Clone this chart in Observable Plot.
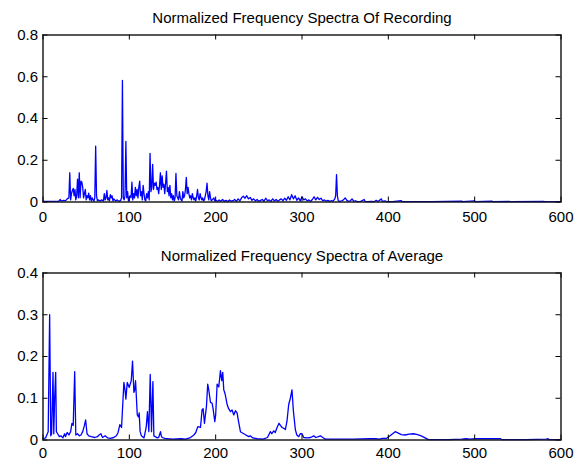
<!DOCTYPE html>
<html><head><meta charset="utf-8">
<script src="https://cdn.jsdelivr.net/npm/d3@7"></script>
<script src="https://cdn.jsdelivr.net/npm/@observablehq/plot@0.6"></script>
<style>
body{margin:0;background:#fff;}
#chart{width:585px;height:461px;background:#fff;}
#chart svg{display:block;}
</style>
</head><body><div id="chart"></div><script>
const titles = ["Normalized Frequency Spectra Of Recording", "Normalized Frequency Spectra of Average"];
const xTicks = [0, 100, 200, 300, 400, 500, 600];
const yTicksTop = [0, 0.2, 0.4, 0.6, 0.8];
const yTicksBottom = [0, 0.1, 0.2, 0.3, 0.4];

// [frequency, normalized amplitude]
const recording = [
[0,0.003],[18,0.003],[20,0.012],[21,0.004],[24,0.008],[26,0.005],[28,0.015],[30,0.02],[31,0.14],[32,0.01],
[33,0.04],[34,0.055],[35,0.065],[36,0.03],[37,0.06],[38,0.01],[39,0.03],[40,0.11],[41,0.02],[42,0.14],
[43,0.02],[44,0.1],[45,0.095],[46,0.07],[47,0.02],[48,0.04],[49,0.06],[50,0.01],[51,0.03],[52,0.02],
[53,0.042],[54,0.01],[55,0.03],[56,0.005],[57,0.02],[58,0.01],[59,0.004],[60,0.02],[61,0.267],[62,0.03],
[63,0.005],[64,0.01],[66,0.005],[68,0.01],[70,0.005],[71,0.04],[72,0.01],[73,0.02],[74,0.055],[75,0.01],
[76,0.02],[77,0.005],[78,0.035],[79,0.02],[80,0.03],[81,0.005],[82,0.015],[84,0.005],[86,0.01],[88,0.003],
[90,0.008],[91,0.02],[92,0.582],[93,0.02],[94,0.01],[95,0.03],[96,0.29],[97,0.02],[98,0.05],[99,0.005],
[100,0.02],[101,0.03],[102,0.02],[103,0.095],[104,0.01],[105,0.04],[106,0.02],[107,0.07],[108,0.03],[109,0.06],
[110,0.02],[111,0.07],[112,0.1],[113,0.03],[114,0.05],[115,0.01],[116,0.08],[117,0.04],[118,0.01],[119,0.005],
[120,0.04],[121,0.02],[122,0.05],[123,0.01],[124,0.233],[125,0.05],[126,0.07],[127,0.18],[128,0.06],[129,0.09],
[130,0.08],[131,0.095],[132,0.06],[133,0.07],[134,0.04],[135,0.08],[136,0.14],[137,0.06],[138,0.125],[139,0.07],
[140,0.085],[141,0.04],[142,0.09],[143,0.148],[144,0.05],[145,0.07],[146,0.03],[147,0.08],[148,0.02],[149,0.04],
[150,0.01],[151,0.03],[152,0.005],[153,0.02],[154,0.137],[155,0.03],[156,0.02],[157,0.01],[158,0.05],[159,0.02],
[160,0.01],[161,0.005],[162,0.05],[163,0.02],[164,0.03],[165,0.06],[166,0.118],[167,0.04],[168,0.07],[169,0.04],
[170,0.02],[171,0.03],[172,0.01],[173,0.04],[174,0.02],[175,0.01],[176,0.02],[177,0.005],[178,0.03],[179,0.06],
[180,0.02],[181,0.01],[182,0.04],[183,0.02],[184,0.01],[185,0.02],[186,0.005],[187,0.01],[188,0.03],[189,0.05],
[190,0.09],[191,0.03],[192,0.01],[193,0.05],[194,0.02],[195,0.005],[196,0.01],[198,0.02],[199,0.005],[200,0.01],
[202,0.003],[204,0.01],[206,0.004],[208,0.012],[210,0.003],[212,0.008],[214,0.002],[216,0.01],[218,0.004],[220,0.006],
[222,0.012],[224,0.003],[226,0.015],[228,0.005],[230,0.02],[232,0.028],[234,0.018],[236,0.03],[238,0.015],[240,0.022],
[242,0.008],[244,0.015],[246,0.005],[248,0.012],[250,0.003],[252,0.008],[254,0.012],[256,0.004],[258,0.018],[260,0.006],
[262,0.01],[264,0.003],[266,0.015],[268,0.005],[270,0.012],[272,0.004],[274,0.01],[276,0.015],[278,0.006],[280,0.018],
[282,0.008],[284,0.025],[286,0.01],[288,0.035],[290,0.015],[292,0.03],[294,0.008],[296,0.02],[298,0.005],[300,0.025],
[302,0.01],[304,0.015],[306,0.005],[308,0.01],[310,0.003],[312,0.012],[314,0.025],[316,0.01],[318,0.022],[320,0.012],
[322,0.018],[324,0.006],[326,0.01],[328,0.004],[330,0.008],[332,0.003],[334,0.006],[336,0.004],[338,0.015],[339,0.03],
[340,0.131],[341,0.03],[342,0.005],[344,0.003],[346,0.006],[348,0.01],[350,0.02],[352,0.008],[354,0.003],[356,0.006],
[358,0.015],[360,0.003],[362,0.006],[364,0.002],[368,0.003],[372,0.012],[373,0.003],[376,0.002],[380,0.003],[384,0.002],
[386,0.008],[388,0.002],[392,0.015],[393,0.003],[396,0.005],[398,0.002],[405,0.002],[415,0.006],[416,0.002],[430,0.002],
[450,0.002],[485,0.004],[486,0.002],[500,0.005],[501,0.002],[520,0.004],[521,0.002],[540,0.003],[541,0.002],[580,0.003],
[581,0.002],[600,0.002]
];

const average = [
[0,0.003],[3,0.005],[5,0.015],[6,0.02],[7.7,0.3],[9,0.01],[10,0.015],[11.6,0.162],[12.5,0.015],[13.5,0.1],
[14.7,0.162],[15.5,0.02],[17,0.015],[19,0.008],[21,0.01],[23,0.005],[25,0.015],[26,0.008],[28,0.018],[30,0.012],
[32,0.02],[33.5,0.04],[35,0.035],[36.7,0.164],[38,0.012],[40,0.015],[42,0.01],[44,0.012],[46,0.02],[48,0.035],
[49.4,0.048],[51,0.015],[53,0.01],[56,0.008],[60,0.006],[63,0.008],[65,0.012],[67,0.015],[69,0.006],[72,0.01],
[75,0.005],[78,0.004],[82,0.006],[85,0.01],[87,0.018],[89,0.037],[91,0.03],[93.7,0.138],[95,0.12],[96,0.098],
[97.6,0.138],[99.9,0.126],[102.2,0.142],[103.7,0.189],[105.3,0.114],[106.3,0.12],[107.2,0.142],[109.2,0.06],[110.5,0.055],[111.4,0.065],
[112.5,0.02],[114,0.01],[117,0.005],[119.5,0.03],[121,0.068],[122.6,0.02],[124.2,0.157],[125.7,0.02],[127.3,0.14],[128.4,0.01],
[130,0.008],[132.3,0.005],[134,0.006],[136.1,0.02],[137,0.01],[138,0.006],[141,0.004],[145,0.003],[150,0.002],[160,0.003],
[165,0.002],[170,0.005],[172,0.008],[174.7,0.012],[177,0.018],[179.3,0.032],[182.4,0.03],[184.3,0.073],[185.5,0.075],[187,0.04],
[189.3,0.08],[190.8,0.134],[192,0.12],[194,0.09],[195.9,0.088],[197,0.075],[199,0.044],[200,0.06],[201.7,0.134],[203.6,0.127],
[205.5,0.166],[207.1,0.142],[208.2,0.162],[209.4,0.12],[211,0.11],[213.3,0.085],[215,0.075],[217.1,0.068],[219,0.072],[221,0.06],
[222.9,0.07],[224.8,0.065],[226,0.05],[228.7,0.02],[230,0.018],[232.6,0.015],[235,0.012],[238.3,0.008],[240,0.01],[243,0.005],
[248,0.003],[255,0.002],[260,0.006],[263.4,0.02],[265,0.015],[267.3,0.022],[269,0.018],[271.1,0.03],[273.4,0.04],[275,0.035],
[276.9,0.03],[279,0.028],[280.7,0.025],[282.6,0.045],[284.6,0.085],[286.5,0.1],[288.4,0.12],[290,0.07],[292.3,0.025],[294,0.012],
[296.2,0.008],[298,0.015],[300,0.015],[302,0.006],[306,0.005],[310,0.006],[313.6,0.01],[316,0.006],[319,0.008],[321.4,0.01],
[324,0.006],[327.2,0.002],[340,0.002],[360,0.002],[378,0.003],[385,0.003],[390,0.002],[393,0.004],[398,0.004],[402,0.01],
[405,0.015],[407.9,0.02],[411,0.017],[415,0.013],[419.4,0.012],[424,0.014],[429,0.015],[434,0.013],[438,0.01],[441,0.007],
[446.5,0.001],[470,0.001],[485,0.002],[490,0.003],[495,0.002],[500,0.003],[520,0.003],[530,0.003],[531,0.001],[560,0.001],
[583,0.002],[585,0.003],[586,0.001],[600,0.001]
];

const W = 585, ML = 42.5, MR = 24.5, TICK = 5;

function panel(data, title, yTicks, yMax, height, marginTop, marginBottom, xPad) {
  const fw = W - ML - MR, fh = height - marginTop - marginBottom;
  const tickStyle = {stroke: "#000", strokeWidth: 1};
  return Plot.plot({
    width: W, height, marginLeft: ML, marginRight: MR, marginTop, marginBottom,
    style: {fontFamily: "'Liberation Sans', Arial, sans-serif", fontSize: "15px", background: "#fff", color: "#000", overflow: "visible"},
    x: {domain: [0, 600]},
    y: {domain: [0, yMax]},
    marks: [
      Plot.line(data, {x: d => d[0], y: d => d[1], stroke: "#0000ff", strokeWidth: 1.3}),
      // inward ticks on all four sides
      Plot.tickX(xTicks, {x: d => d, insetTop: fh - TICK, ...tickStyle}),
      Plot.tickX(xTicks, {x: d => d, insetBottom: fh - TICK, ...tickStyle}),
      Plot.tickY(yTicks, {y: d => d, insetRight: fw - TICK, ...tickStyle}),
      Plot.tickY(yTicks, {y: d => d, insetLeft: fw - TICK, ...tickStyle}),
      Plot.axisX(xTicks, {anchor: "bottom", tickSize: 0, tickPadding: xPad, label: null, tickFormat: d => String(d)}),
      Plot.axisY(yTicks, {anchor: "left", tickSize: 0, tickPadding: 5, label: null, tickFormat: d => String(d)}),
      Plot.frame({stroke: "#111", strokeWidth: 1.4}),
      Plot.text([title], {text: d => d, frameAnchor: "top", lineAnchor: "bottom", dy: -12, fontSize: 15})
    ]
  });
}

const chart = document.getElementById("chart");
chart.append(panel(recording, titles[0], yTicksTop, 0.8, 230, 34.5, 28.5, 9));
chart.append(panel(average, titles[1], yTicksBottom, 0.4, 231, 42.5, 21.5, 7));
</script></body></html>
